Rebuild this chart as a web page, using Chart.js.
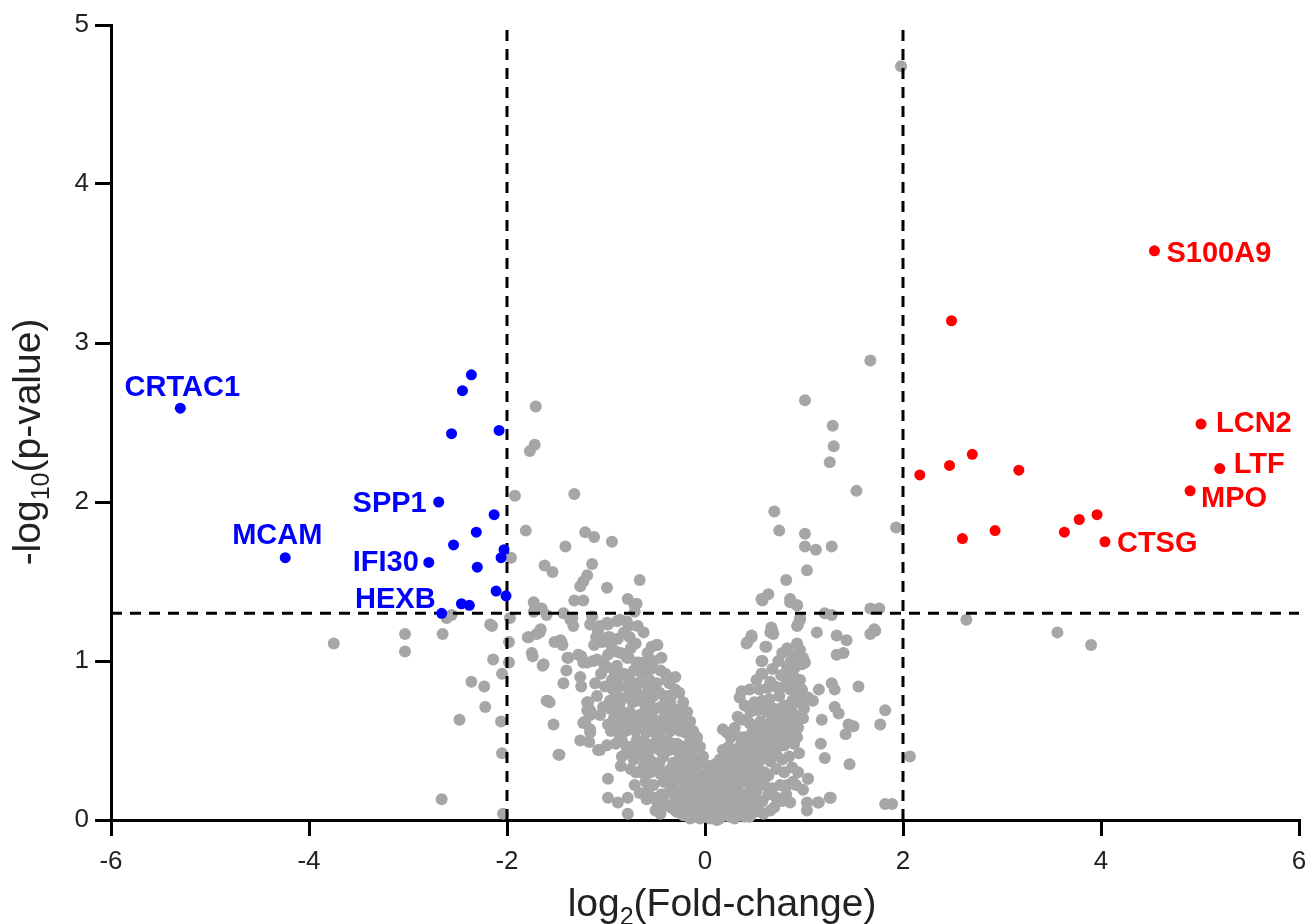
<!DOCTYPE html>
<html>
<head>
<meta charset="utf-8">
<title>Volcano plot</title>
<script src="https://cdn.jsdelivr.net/npm/chart.js@4.4.0/dist/chart.umd.min.js"></script>
<style>
  html, body { margin: 0; padding: 0; background: #fff; }
  canvas { display: block; }
</style>
</head>
<body>
<canvas id="volcano" width="1309" height="924"></canvas>
<script>
// --- data ---
const xTicks = [-6, -4, -2, 0, 2, 4, 6];
const yTicks = [0, 1, 2, 3, 4, 5];
const fcCutoffs = [-2, 2];     // log2 fold-change
const pCutoff = 1.3;           // -log10(0.05)

// down-regulated (blue)
const downNames = ['CRTAC1', '', '', '', '', 'SPP1', '', '', 'MCAM', '', '', '', 'IFI30', '', '', '', '', '', 'HEXB'];
const downX = [-5.30, -2.36, -2.45, -2.56, -2.08, -2.69, -2.13, -2.31, -4.24, -2.54, -2.03, -2.06, -2.79, -2.30, -2.11, -2.01, -2.46, -2.38, -2.66];
const downY = [2.59, 2.80, 2.70, 2.43, 2.45, 2.00, 1.92, 1.81, 1.65, 1.73, 1.70, 1.65, 1.62, 1.59, 1.44, 1.41, 1.36, 1.35, 1.30];

// up-regulated (red)
const upNames = ['S100A9', '', 'LCN2', '', '', '', '', 'LTF', 'MPO', '', '', '', '', '', 'CTSG'];
const upX = [4.54, 2.49, 5.01, 2.70, 2.47, 2.17, 3.17, 5.20, 4.90, 3.96, 3.78, 3.63, 2.93, 2.60, 4.04];
const upY = [3.58, 3.14, 2.49, 2.30, 2.23, 2.17, 2.20, 2.21, 2.07, 1.92, 1.89, 1.81, 1.82, 1.77, 1.75];

// not significant (grey), [log2FC, -log10 p]
const nsPoints = [
  [1.98,4.74],[1.67,2.89],[1.01,2.64],[1.29,2.48],[1.30,2.35],[1.26,2.25],[1.53,2.07],[0.70,1.94],[0.75,1.82],
  [1.01,1.80],[1.01,1.72],[1.12,1.70],[1.28,1.72],[1.93,1.84],[1.03,1.57],[0.82,1.51],[0.64,1.42],[0.57,1.39],
  [0.86,1.39],[0.93,1.35],[1.21,1.30],[1.28,1.29],[1.67,1.33],[1.76,1.33],[2.64,1.26],[0.96,1.26],[1.71,1.20],
  [3.56,1.18],[3.90,1.10],[1.13,1.18],[1.33,1.16],[1.43,1.13],[1.67,1.17],[1.72,1.19],[1.33,1.04],[1.40,1.05],
  [1.55,0.84],[1.28,0.86],[1.31,0.82],[1.15,0.82],[1.82,0.69],[1.77,0.60],[1.31,0.71],[1.35,0.67],[1.18,0.63],
  [1.45,0.60],[1.50,0.59],[1.42,0.54],[1.17,0.48],[1.21,0.39],[1.46,0.35],[2.07,0.40],[1.27,0.14],[1.15,0.11],
  [1.82,0.10],[1.89,0.10],[1.04,0.26],[0.99,0.19],[1.03,0.11],[1.03,0.06],
  [-0.94,1.75],[-0.66,1.51],[-0.99,1.46],[-0.78,1.39],[-0.71,1.35],[-0.71,1.31],[-0.99,1.24],[-0.89,1.25],
  [-0.79,1.25],[-0.77,1.22],[-0.98,1.15],[-0.70,1.11],[-0.54,1.09],[-0.49,1.10],[-0.90,1.06],[-0.77,1.02],
  [-0.67,0.99],[-0.62,0.99],[-0.91,0.92],[-0.81,0.91],[-0.39,0.88],
  [0.96,1.27],[0.93,1.22],[0.47,1.16],[0.42,1.11],[0.67,1.21],[0.69,1.17],[0.61,1.09],[0.57,1.00],[0.83,1.08],
  [0.93,1.10],[0.96,1.03],[0.89,1.03],[0.86,0.97],[0.98,0.98],[0.57,0.92],[0.77,0.91],
  [-1.71,2.60],[-1.72,2.36],[-1.77,2.32],[-1.92,2.04],[-1.32,2.05],[-1.81,1.82],[-1.21,1.81],[-1.12,1.78],
  [-1.41,1.72],[-1.96,1.65],[-1.62,1.60],[-1.54,1.56],[-1.14,1.61],[-1.19,1.54],[-1.23,1.50],[-1.26,1.47],
  [-1.73,1.37],[-1.73,1.31],[-1.65,1.33],[-1.60,1.29],[-1.43,1.30],[-1.36,1.26],[-1.32,1.38],[-1.23,1.38],
  [-1.97,1.27],[-1.66,1.20],[-1.14,1.28],[-1.16,1.23],[-1.06,1.22],[-0.98,1.23],
  [-2.61,1.27],[-2.56,1.29],[-2.17,1.23],[-2.15,1.22],[-3.75,1.11],[-3.03,1.17],[-3.03,1.06],[-2.65,1.17],
  [-1.98,1.12],[-2.14,1.01],[-1.98,0.99],[-2.05,0.92],[-2.36,0.87],[-2.23,0.84],[-2.22,0.71],[-2.48,0.63],
  [-2.06,0.62],[-2.05,0.42],[-2.66,0.13],[-2.04,0.04],
  [-1.78,1.15],[-1.70,1.17],[-1.52,1.12],[-1.45,1.12],[-1.12,1.10],[-1.74,1.03],[-1.63,0.98],[-1.39,1.02],
  [-1.25,1.03],[-1.23,0.99],[-1.13,1.00],[-1.40,0.94],[-1.26,0.90],[-1.43,0.86],[-1.25,0.84],[-1.11,0.86],
  [-1.59,0.75],[-1.19,0.74],[-1.16,0.69],[-1.09,0.78],[-1.53,0.60],[-1.21,0.62],[-1.16,0.57],[-1.26,0.50],
  [-1.17,0.49],[-1.47,0.41],[-1.08,0.44],
  [-1.34,1.27],[-1.33,1.22],[-1.09,1.21],[-1.08,1.18],[-0.96,1.15],[-0.86,1.26],[-0.69,1.36],[-1.79,1.15],
  [-1.67,1.18],[-1.46,1.13],[-1.44,1.10],[-0.48,1.10],[-1.75,1.05],[-1.64,0.97],[-1.38,1.02],[-1.28,1.04],
  [-1.19,0.99],[-1.09,1.01],[-0.99,0.96],[-0.89,0.97],[-0.79,1.02],[-0.69,0.99],
  [-1.01,0.84],[-0.93,0.82],[-0.89,0.88],[-0.79,0.84],[-0.73,0.81],[-0.59,0.85],[-0.49,0.86],
  [-1.60,0.75],[-1.57,0.74],[-1.18,0.74],[-1.03,0.71],[-0.96,0.75],[-0.86,0.74],[-0.73,0.74],[-0.66,0.75],
  [-0.56,0.75],[-0.45,0.71],[-0.35,0.74],[-0.25,0.69],
  [-1.19,0.69],[-1.16,0.66],[-1.06,0.66],[-0.98,0.60],[-0.92,0.64],[-0.83,0.67],[-0.73,0.65],[-0.63,0.66],
  [-0.53,0.64],[-0.43,0.63],[-0.33,0.64],[-0.24,0.66],
  [-1.23,0.61],[-1.16,0.55],[-1.06,0.44],[-0.99,0.47],[-0.86,0.52],[-0.79,0.46],[-0.69,0.50],[-0.59,0.55],
  [-0.48,0.52],[-0.38,0.50],[-0.28,0.48],[-0.20,0.55],[-1.48,0.41],
  [-0.84,0.40],[-0.72,0.38],[-0.62,0.40],[-0.52,0.36],[-0.42,0.40],[-0.32,0.36],[-0.22,0.38],[-0.12,0.40],[-0.05,0.36],
  [-0.98,0.26],[-0.98,0.14],[-0.88,0.11],[-0.78,0.14],[-0.78,0.04],
  [-0.71,0.22],[-0.66,0.17],[-0.59,0.13],[-0.48,0.11],[-0.45,0.04],[-0.38,0.17],[-0.32,0.21],[-0.25,0.13],
  [-0.18,0.09],[-0.12,0.17],[-0.05,0.08],[-0.02,0.04],[0.05,0.08],[0.12,0.04],
  [-0.55,0.30],[-0.45,0.29],[-0.35,0.32],[-0.25,0.31],[-0.15,0.28],
  [0.58,1.38],[0.86,1.37],[0.93,1.35],[0.94,1.23],[0.68,1.19],[0.66,1.18],[0.47,1.15],[0.43,1.12],[0.62,1.09],
  [0.93,1.11],[0.96,1.07],[0.99,1.02],[0.58,1.00],[0.86,0.99],[0.91,0.96],[0.83,0.96],[0.89,0.91],[0.79,0.91],
  [0.96,1.01],[1.01,0.99],[0.58,0.92],[0.66,0.87],[0.71,0.84],[0.63,0.83],[0.37,0.81],[0.35,0.77],[0.86,0.82],
  [0.88,0.75],[0.94,0.83],[0.93,0.79],[1.01,0.77],[1.04,0.77],[1.09,0.75],[0.99,0.74],[0.58,0.75],[0.61,0.71],
  [0.53,0.69],[0.93,0.65],[0.99,0.64],[0.86,0.61],[0.79,0.61],[0.73,0.59],[0.66,0.61],[0.59,0.57],[0.53,0.57],
  [0.45,0.61],[0.38,0.63],[0.33,0.65],[0.18,0.57],[0.22,0.55],
  [0.94,0.30],[1.04,0.26],[0.83,0.22],[0.89,0.24],[0.86,0.11],[1.14,0.11],[1.26,0.14],[0.66,0.06],[0.59,0.04],
  [0.93,0.52],[0.90,0.48],[0.85,0.50],[0.80,0.47],[0.75,0.52],[0.70,0.48],[0.65,0.50],[0.60,0.46],[0.55,0.48],
  [0.50,0.45],[0.45,0.47],[0.40,0.44],[0.35,0.46],[0.30,0.42],[0.25,0.44],[0.20,0.40],[0.15,0.38],[0.10,0.35],
  [0.95,0.42],[0.85,0.40],[0.78,0.38],[0.72,0.41],[0.66,0.37],[0.60,0.39],[0.54,0.36],[0.48,0.38],[0.42,0.34],
  [0.36,0.36],[0.30,0.32],[0.24,0.34],[0.18,0.30],[0.12,0.28],[0.06,0.25],
  [0.88,0.33],[0.80,0.30],[0.72,0.32],[0.64,0.28],[0.56,0.30],[0.50,0.26],[0.44,0.28],[0.38,0.24],[0.32,0.26],
  [0.26,0.22],[0.20,0.24],[0.14,0.20],[0.08,0.18],[0.02,0.15],
  [0.76,0.22],[0.68,0.20],[0.60,0.22],[0.52,0.18],[0.46,0.20],[0.40,0.16],[0.34,0.18],[0.28,0.14],[0.22,0.16],
  [0.16,0.12],[0.10,0.10],[0.04,0.08],
  [0.78,0.12],[0.72,0.14],[0.55,0.10],[0.48,0.12],[0.42,0.08],[0.36,0.10],[0.30,0.06],[0.24,0.08],[0.18,0.05],
  [0.08,0.03],[0.00,0.02],[0.45,0.02],[0.35,0.03],
  [0.70,0.70],[0.75,0.78],[0.80,0.72],[0.65,0.76],[0.55,0.82],[0.50,0.74],[0.46,0.68],[0.40,0.72],[0.72,0.66],
  [0.62,0.68],[0.68,0.95],[0.74,1.00],[0.78,1.05],[0.52,0.88],[0.45,0.82],[0.30,0.58],[0.26,0.52],
  [-0.95,0.56],[-0.90,0.58],[-0.85,0.60],[-0.80,0.56],[-0.75,0.58],[-0.70,0.56],[-0.65,0.58],[-0.60,0.60],
  [-0.55,0.56],[-0.50,0.58],[-0.45,0.56],[-0.40,0.58],[-0.35,0.56],[-0.30,0.58],[-0.25,0.56],[-0.15,0.50],
  [-0.10,0.46],[-0.08,0.30],
  [-0.90,0.80],[-0.84,0.76],[-0.78,0.78],[-0.70,0.82],[-0.64,0.78],[-0.58,0.80],[-0.52,0.78],[-0.46,0.80],
  [-0.40,0.76],[-0.34,0.78],[-0.30,0.82],
  [-1.05,0.92],[-0.98,1.04],[-0.85,1.05],[-0.75,1.08],[-0.72,0.94],[-0.60,0.92],[-0.55,0.95],[-0.45,0.94],
  [-0.65,0.30],[-0.75,0.32],[-0.85,0.34],[-0.60,0.24],[-0.52,0.22],[-0.42,0.24],[-0.28,0.26],[-0.20,0.22],
  [-0.10,0.24],[-0.02,0.22],[0.02,0.30],[-0.35,0.08],[-0.28,0.05],[-0.22,0.03],[-0.15,0.05],[-0.10,0.02],
  [-0.30,0.14],[-0.24,0.18],[-0.18,0.16],[-0.14,0.12],[-0.08,0.12],[-0.04,0.16],[0.00,0.12],[0.04,0.18],
  [0.08,0.12],[0.14,0.08],[0.20,0.12],[0.26,0.10],[-0.06,0.20],[0.00,0.22],[0.06,0.28],[-0.12,0.30],
  [0.10,0.20],[0.16,0.24],[-0.20,0.30],[0.00,0.06],[-0.05,0.01],[0.05,0.01],[0.15,0.01],[-0.15,0.01],
  [0.25,0.02],[-0.25,0.09],[0.32,0.18],[0.38,0.12],
  [-1.10,1.15],[-1.04,1.12],[-0.95,1.10],[-0.88,1.14],[-0.82,1.18],[-0.76,1.15],[-0.68,1.22],[-0.62,1.18],
  [-0.58,1.05],[-0.52,1.00],[-0.44,1.02],[-0.40,0.92],[-0.36,0.86],[-0.30,0.90],[-0.26,0.80],[-0.22,0.74],
  [-0.18,0.68],[-0.15,0.62],[-0.12,0.56],[-0.08,0.52],[-0.05,0.46],[-0.02,0.40],
  [-1.02,0.98],[-0.94,0.88],[-0.86,0.84],[-0.82,0.92],[-0.76,0.88],[-0.68,0.86],[-0.64,0.92],[-0.56,0.88],
  [-0.50,0.82],[-0.42,0.70],[-0.38,0.78],[-0.32,0.70],[-0.28,0.62],[-0.20,0.60],[-0.18,0.46],[-0.14,0.36],
  [-0.96,0.70],[-0.90,0.66],[-0.86,0.70],[-0.80,0.64],[-0.76,0.68],[-0.70,0.62],[-0.66,0.66],[-0.60,0.70],
  [-0.56,0.66],[-0.50,0.70],[-0.46,0.62],[-0.40,0.66],[-0.36,0.62],[-0.30,0.66],[-0.26,0.60],
  [-0.90,0.48],[-0.84,0.50],[-0.80,0.42],[-0.74,0.46],[-0.70,0.40],[-0.66,0.46],[-0.62,0.50],[-0.56,0.44],
  [-0.52,0.48],[-0.46,0.44],[-0.42,0.48],[-0.36,0.44],[-0.32,0.48],[-0.26,0.42],[-0.22,0.46],[-0.16,0.42],
  [-0.70,0.30],[-0.62,0.34],[-0.56,0.38],[-0.50,0.32],[-0.46,0.36],[-0.40,0.30],[-0.36,0.26],[-0.30,0.34],
  [-0.24,0.28],[-0.18,0.34],[-0.14,0.24],[-0.06,0.28],
  [-0.58,0.18],[-0.52,0.14],[-0.50,0.06],[-0.44,0.16],[-0.40,0.10],[-0.34,0.20],[-0.30,0.06],[-0.26,0.18],
  [-0.20,0.12],[-0.16,0.20],[-0.10,0.08],[-0.08,0.16],[-0.04,0.24],[-0.02,0.10],
  [0.02,0.05],[0.06,0.14],[0.10,0.06],[0.12,0.16],[0.14,0.26],[0.18,0.20],[0.20,0.08],[0.22,0.28],[0.26,0.18],
  [0.28,0.30],[0.30,0.22],[0.32,0.10],[0.34,0.34],[0.38,0.30],[0.40,0.26],[0.42,0.40],[0.44,0.14],[0.46,0.34],
  [0.48,0.30],[0.50,0.40],[0.52,0.34],[0.54,0.24],[0.56,0.42],[0.58,0.52],[0.60,0.30],[0.62,0.40],[0.62,0.58],
  [0.64,0.46],[0.66,0.54],[0.68,0.42],[0.68,0.66],[0.70,0.60],[0.72,0.54],[0.74,0.46],[0.76,0.62],[0.76,0.70],
  [0.78,0.56],[0.80,0.66],[0.80,0.84],[0.82,0.50],[0.82,0.62],[0.84,0.72],[0.84,0.90],[0.86,0.56],[0.88,0.68],
  [0.90,0.86],[0.90,0.62],[0.92,0.74],[0.94,0.58],[0.96,0.88],[0.98,0.82],[1.00,0.70],[0.56,0.62],[0.52,0.52],
  [0.48,0.56],[0.44,0.52],[0.40,0.52],[0.36,0.52],[0.34,0.42],[0.28,0.38],[0.24,0.46],[0.18,0.44],[0.16,0.32],
  [0.10,0.26],[0.06,0.20],[0.04,0.34],
  [0.12,0.00],[0.22,0.04],[0.30,0.01],[0.40,0.02],[0.50,0.05],[0.58,0.12],[0.64,0.16],[0.70,0.08],[0.82,0.16],[0.92,0.22]
];

// --- styling ---
const FONT = '"Liberation Sans", Arial, Helvetica, sans-serif';
const GREY = '#a6a6a6';
const BLUE = '#0000ff';
const RED = '#ff0000';

// where each gene name sits relative to its dot (pixels)
const labelPlacement = {
  CRTAC1: { dx: 2, dy: -22, align: 'center' },
  MCAM:   { dx: -8, dy: -24, align: 'center' },
  SPP1:   { dx: -12, dy: 0, align: 'right' },
  IFI30:  { dx: -10, dy: -1, align: 'right' },
  HEXB:   { dx: -6, dy: -15, align: 'right' },
  S100A9: { dx: 12, dy: 1, align: 'left' },
  LCN2:   { dx: 15, dy: -2, align: 'left' },
  LTF:    { dx: 14, dy: -6, align: 'left' },
  MPO:    { dx: 11, dy: 6, align: 'left' },
  CTSG:   { dx: 12, dy: 0, align: 'left' }
};

const toXY = (xs, ys) => xs.map((x, i) => ({ x: x, y: ys[i] }));

// draws a title made of pieces: [text, size, yShift]
function drawPieces(ctx, pieces, cx, baseline) {
  let total = 0;
  pieces.forEach(p => {
    ctx.font = p[1] + 'px ' + FONT;
    total += ctx.measureText(p[0]).width;
  });
  let x = cx - total / 2;
  ctx.textAlign = 'left';
  ctx.textBaseline = 'alphabetic';
  pieces.forEach(p => {
    ctx.font = p[1] + 'px ' + FONT;
    ctx.fillText(p[0], x, baseline + (p[2] || 0));
    x += ctx.measureText(p[0]).width;
  });
}

const axisTitles = {
  id: 'axisTitles',
  afterDraw(chart) {
    const ctx = chart.ctx;
    const area = chart.chartArea;
    ctx.save();
    ctx.fillStyle = '#222';
    drawPieces(ctx, [['log', 39], ['2', 25, 9], ['(Fold-change)', 39]], (area.left + area.right) / 2 + 17, 916);
    ctx.translate(40, 442);
    ctx.rotate(-Math.PI / 2);
    drawPieces(ctx, [['-log', 39], ['10', 25, 9], ['(p-value)', 39]], 0, 0);
    ctx.restore();
  }
};

const geneLabels = {
  id: 'geneLabels',
  afterDatasetsDraw(chart) {
    const ctx = chart.ctx;
    const xs = chart.scales.x, ys = chart.scales.y;
    ctx.save();
    ctx.font = 'bold 29px ' + FONT;
    ctx.textBaseline = 'alphabetic';
    const put = (names, xv, yv, colour) => {
      names.forEach((name, i) => {
        if (!name) return;
        const pl = labelPlacement[name];
        ctx.fillStyle = colour;
        ctx.textAlign = pl.align;
        ctx.fillText(name, xs.getPixelForValue(xv[i]) + pl.dx, ys.getPixelForValue(yv[i]) + pl.dy + 10);
      });
    };
    put(downNames, downX, downY, BLUE);
    put(upNames, upX, upY, RED);
    ctx.restore();
  }
};

const yMax = yTicks[yTicks.length - 1];
const cutoffLine = (pts) => ({
  data: pts,
  showLine: true,
  borderColor: '#000',
  borderWidth: 3,
  borderDash: [11, 8],
  pointRadius: 0,
  order: 2
});

new Chart(document.getElementById('volcano'), {
  type: 'scatter',
  data: {
    datasets: [
      {
        label: 'ns',
        data: nsPoints.map(p => ({ x: p[0], y: p[1] })),
        backgroundColor: GREY,
        borderWidth: 0,
        pointRadius: 6,
        clip: false,
        order: 3
      },
      cutoffLine([{ x: fcCutoffs[0], y: 0 }, { x: fcCutoffs[0], y: yMax }]),
      cutoffLine([{ x: fcCutoffs[1], y: 0 }, { x: fcCutoffs[1], y: yMax }]),
      cutoffLine([{ x: xTicks[0], y: pCutoff }, { x: xTicks[xTicks.length - 1], y: pCutoff }]),
      {
        label: 'down',
        data: toXY(downX, downY),
        backgroundColor: BLUE,
        borderWidth: 0,
        pointRadius: 5.5,
        clip: false,
        order: 1
      },
      {
        label: 'up',
        data: toXY(upX, upY),
        backgroundColor: RED,
        borderWidth: 0,
        pointRadius: 5.5,
        clip: false,
        order: 1
      }
    ]
  },
  options: {
    responsive: false,
    animation: false,
    layout: { padding: { top: 25, right: 10, left: 0, bottom: 0 } },
    plugins: { legend: { display: false }, tooltip: { enabled: false } },
    scales: {
      x: {
        type: 'linear',
        min: xTicks[0],
        max: xTicks[xTicks.length - 1],
        z: 1,
        afterFit: s => { s.height = 104; s.paddingLeft = 0; s.paddingRight = 10; },
        afterBuildTicks: s => { s.ticks = xTicks.map(v => ({ value: v })); },
        ticks: { color: '#222', font: { family: FONT, size: 26 }, padding: 10 },
        grid: { drawOnChartArea: false, drawTicks: true, tickLength: 16, lineWidth: 3, color: '#000' },
        border: { display: true, color: '#000', width: 3 }
      },
      y: {
        type: 'linear',
        min: yTicks[0],
        max: yMax,
        z: 1,
        afterFit: s => { s.width = 111; s.paddingTop = 0; s.paddingBottom = 0; },
        afterBuildTicks: s => { s.ticks = yTicks.map(v => ({ value: v })); },
        ticks: { color: '#222', font: { family: FONT, size: 26 }, padding: 6 },
        grid: { drawOnChartArea: false, drawTicks: true, tickLength: 16, lineWidth: 3, color: '#000' },
        border: { display: true, color: '#000', width: 3 }
      }
    }
  },
  plugins: [axisTitles, geneLabels]
});
</script>
</body>
</html>
